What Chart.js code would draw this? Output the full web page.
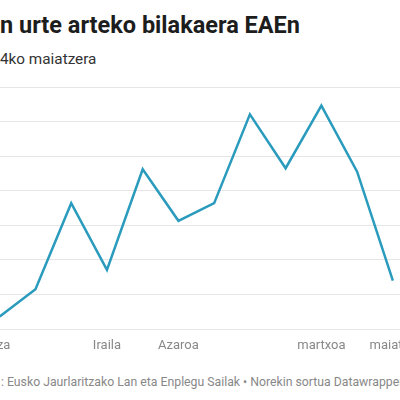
<!DOCTYPE html>
<html>
<head>
<meta charset="utf-8">
<script src="https://cdn.jsdelivr.net/npm/chart.js@4"></script>
<style>
  html, body { margin: 0; padding: 0; background: #fff; }
  body { width: 400px; height: 400px; overflow: hidden; position: relative; font-family: Roboto, sans-serif; }
  #izenburua { position: absolute; left: 0; top: 11px; font-size: 23.5px; font-weight: 700; color: #1d1d1d; white-space: nowrap; }
  #azpititulua { position: absolute; left: 0; top: 50px; font-size: 15.3px; color: #333; white-space: nowrap; }
  #grafikoa { position: absolute; left: -36px; top: 80px; width: 436px; height: 280px; }
  #oharra { position: absolute; left: 1px; top: 375px; font-size: 12.25px; color: #888; white-space: nowrap; }
</style>
</head>
<body>
<div id="izenburua">n urte arteko bilakaera EAEn</div>
<div id="azpititulua">4ko maiatzera</div>
<div id="grafikoa"><canvas id="mon-graphique"></canvas></div>
<div id="oharra">: Eusko Jaurlaritzako Lan eta Enplegu Sailak • Norekin sortua Datawrapper</div>
<script>
// hilabeteak: lehena (2023ko maiatza) ezkerretik kanpo geratzen da
const hilabeteak = ["Maiatza", "", "", "", "Iraila", "", "Azaroa", "", "", "", "martxoa", "", "maiatza"];
// balioak ekainetik maiatzera (sareta-unitateetan irakurriak)
const balioak = [3.6, 11.5, 36.4, 17.1, 46.2, 31.3, 36.4, 62.1, 46.5, 64.6, 45.5, 14.0];
const yTartea = [0, 70];

let configurations = {
  type: "line",
  data: {
    datasets: [{
      data: balioak.map((v, i) => ({ x: i, y: v })),
      borderColor: "#2a9bbd",
      borderWidth: 2.5,
      pointRadius: 0,
      pointHoverRadius: 0,
      tension: 0,
      fill: false
    }]
  },
  options: {
    responsive: true,
    maintainAspectRatio: false,
    animation: false,
    layout: { autoPadding: false, padding: { top: 7, left: 0, right: 0, bottom: 0 } },
    plugins: {
      legend: { display: false },
      tooltip: { enabled: false }
    },
    scales: {
      x: {
        type: "linear",
        min: -1,
        max: 11.2,
        grid: { display: true, drawOnChartArea: false, drawTicks: true, tickLength: 9, color: "rgba(0,0,0,0)" },
        border: { display: false },
        afterBuildTicks: (axis) => {
          axis.ticks = hilabeteak.map((_, i) => ({ value: i - 1 })).concat([{ value: axis.max }]);
        },
        afterFit: (axis) => { axis.height = 31; },
        ticks: {
          autoSkip: false,
          maxRotation: 0,
          align: "inner",
          padding: 0,
          color: "#888",
          font: { family: "Roboto", size: 13 },
          callback: (v) => hilabeteak[v + 1] || ""
        }
      },
      y: {
        min: yTartea[0],
        max: yTartea[1],
        grid: { color: "#e6e6e6", lineWidth: 1, drawTicks: false },
        border: { display: false },
        ticks: { display: false, stepSize: 10 }
      }
    }
  }
};

const contexte = document.querySelector('#mon-graphique').getContext("2d");
new Chart(contexte, configurations);
</script>
</body>
</html>
